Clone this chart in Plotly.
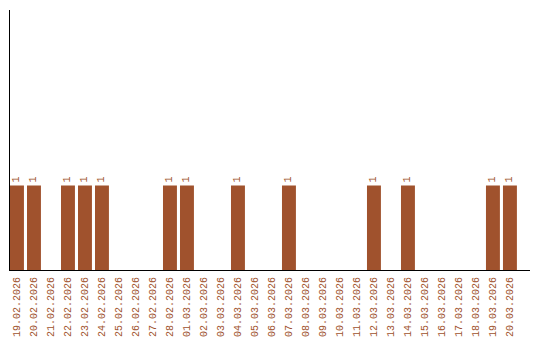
import plotly.graph_objects as go

dates = ["19.02.2026", "20.02.2026", "21.02.2026", "22.02.2026", "23.02.2026", "24.02.2026",
         "25.02.2026", "26.02.2026", "27.02.2026", "28.02.2026", "01.03.2026", "02.03.2026",
         "03.03.2026", "04.03.2026", "05.03.2026", "06.03.2026", "07.03.2026", "08.03.2026",
         "09.03.2026", "10.03.2026", "11.03.2026", "12.03.2026", "13.03.2026", "14.03.2026",
         "15.03.2026", "16.03.2026", "17.03.2026", "18.03.2026", "19.03.2026", "20.03.2026"]
counts = [1, 1, 0, 1, 1, 1, 0, 0, 0, 1, 1, 0, 0, 1, 0, 0, 1, 0, 0, 0, 0, 1, 0, 1, 0, 0, 0, 0, 1, 1]

color = "#a0522d"
font = "Liberation Mono"

fig = go.Figure(go.Bar(
    x=dates, y=counts,
    marker=dict(color=color, line=dict(width=0)),
    text=[str(c) if c else "" for c in counts],
    textposition="outside", textangle=-90,
    textfont=dict(family=font, size=10, color=color),
    cliponaxis=False,
))
fig.update_layout(
    width=540, height=340,
    margin=dict(l=10, r=10, t=10, b=70, autoexpand=False),
    paper_bgcolor="white", plot_bgcolor="white",
    bargap=0.18, showlegend=False,
    xaxis=dict(type="category", range=[-0.41, 30.18], showgrid=False, automargin=False,
               showline=True, linecolor="black", linewidth=1, ticks="",
               ticklabelstandoff=2,
               tickangle=-90, tickfont=dict(family=font, size=10, color=color)),
    yaxis=dict(range=[0, 3.08], showgrid=False, zeroline=False, showticklabels=False,
               automargin=False,
               showline=True, linecolor="black", linewidth=1, ticks=""),
)
fig.write_html("out.html")
